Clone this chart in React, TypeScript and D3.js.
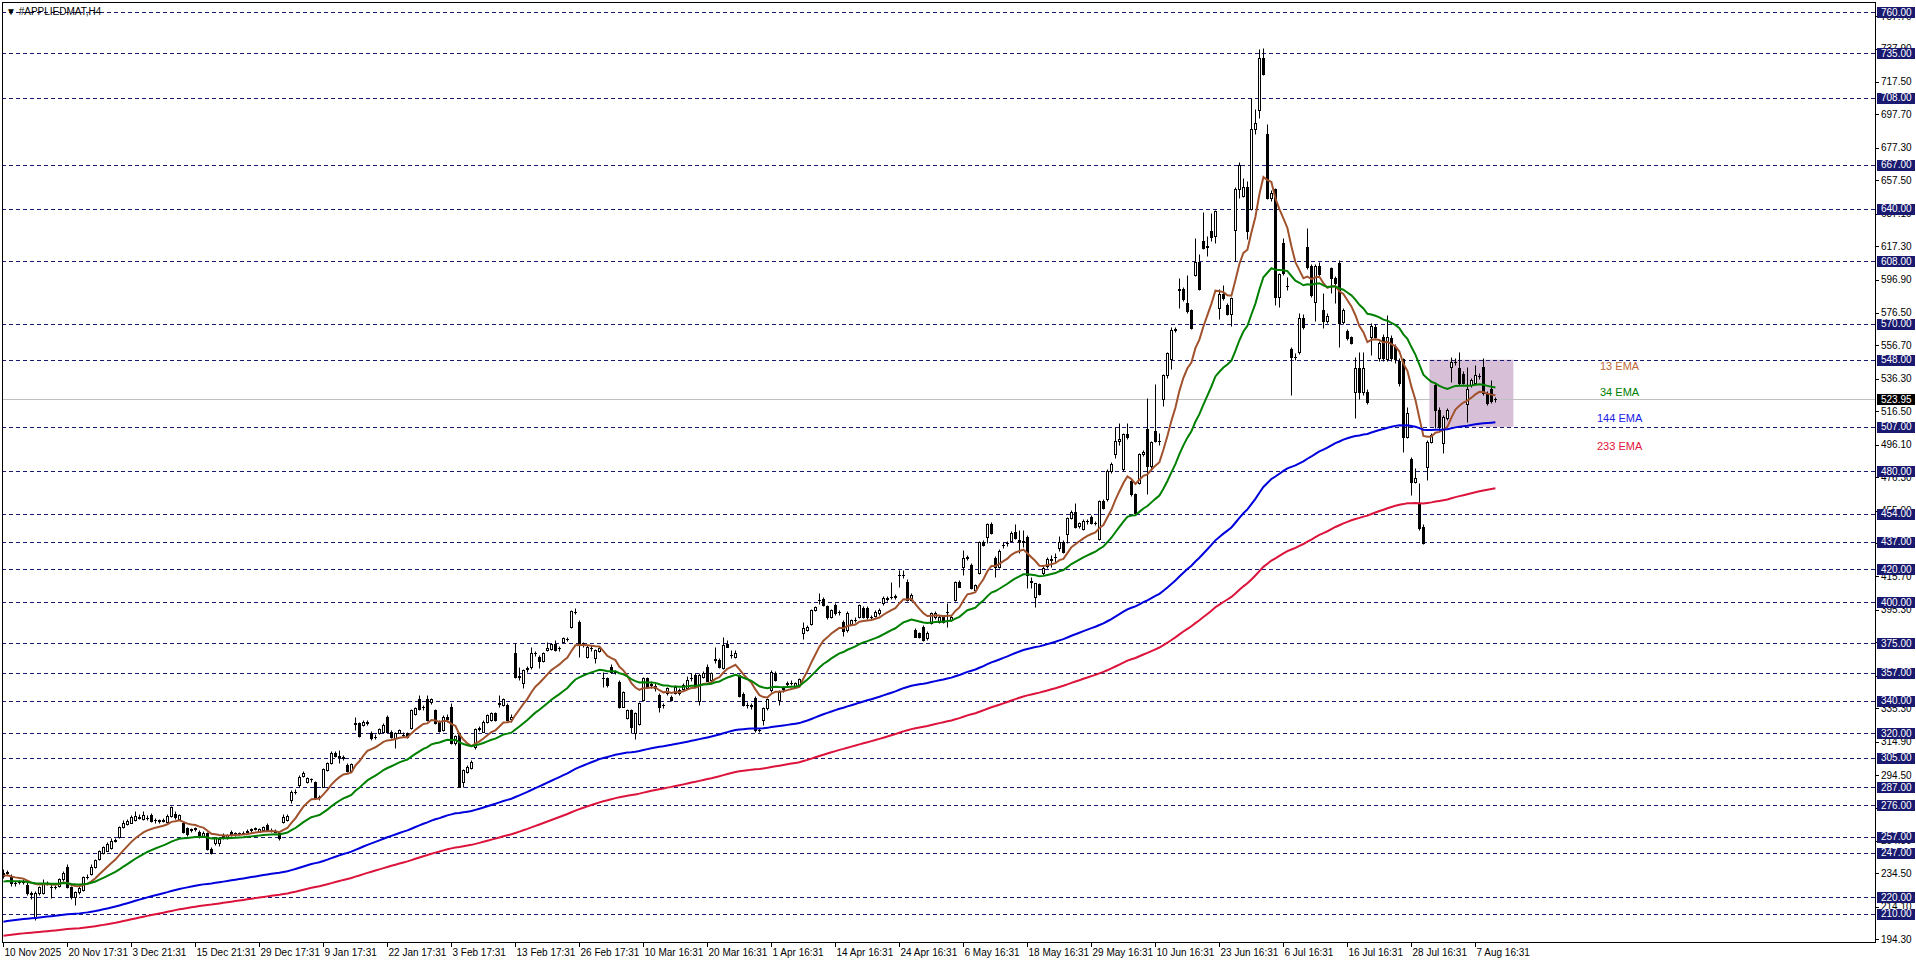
import React, { useEffect } from 'react';
import * as d3 from 'd3';

// H4 bars, [open, high, low, close], first bar 10 Nov 2025
const bars: [number, number, number, number][] = [
  [235, 237, 232, 233], [235, 236.5, 233.5, 235.2], [232.5, 234, 227, 228.5], [228.5, 230, 227, 228.8],
  [229, 230.5, 228, 229.5], [229.5, 231, 228, 229], [227.5, 229, 221.5, 222.4], [222.5, 224, 219, 222],
  [207.5, 224, 206, 222.5], [222.4, 227, 221.5, 226.1], [222.6, 231, 222, 228.9], [228.9, 230, 227.5, 228.6],
  [226.5, 228, 219.5, 226.2], [226.2, 227.5, 225, 226.4], [226.9, 232, 226, 230.9], [230.9, 236, 230, 235],
  [238.5, 240.2, 225.8, 226.5], [226.4, 227, 218.7, 220.4], [220.4, 223.5, 215.3, 223.4], [223.4, 227, 222, 225.5],
  [224.5, 233, 223.5, 232.6], [232.6, 234, 231, 232.2], [234.2, 240, 233.5, 238.6], [238.6, 243.5, 238, 242.7],
  [243.2, 249, 242.5, 248.4], [247.2, 251.5, 246.5, 250.5], [248.4, 253.5, 248, 252.5], [249.9, 256, 249.5, 254.5],
  [254.5, 256, 253.5, 255.2], [256.6, 263.5, 256, 262.7], [262.7, 267, 262, 265.5], [264.7, 268, 264, 266.7],
  [265.5, 270, 265, 269.2], [267.1, 272.8, 266.5, 269.6], [269, 270.5, 267.5, 268.6], [268, 272.8, 267, 270.2],
  [268.5, 270, 267, 268.2], [270.2, 271.5, 266, 266.7], [267, 268.5, 265.5, 267.1], [266.8, 268, 265.5, 266.7],
  [266.7, 268.3, 265.8, 267.1], [266.1, 270.5, 265.5, 269.6], [269.6, 275.9, 269, 274.9], [271, 272.5, 268, 269],
  [267.5, 271, 267, 270], [265.1, 266, 259, 260], [262, 263, 257.5, 258.6], [261, 262.5, 259.5, 261.4],
  [261.8, 263, 260.5, 262], [260, 261, 256, 257], [257, 260.5, 256.5, 259], [259, 260, 249, 249.2],
  [249.2, 250.5, 246.5, 247.2], [252.9, 257, 252, 256.6], [252.9, 256, 251.5, 255.3], [258, 259, 255.5, 256],
  [256.5, 258.5, 255.5, 258], [260, 261, 257.5, 258], [258.5, 260, 257.5, 259], [259, 260, 258, 259.2],
  [259.2, 260.5, 258.5, 259.4], [260, 261.5, 259.5, 260.6], [261, 262.5, 260, 261.4], [261.6, 263, 261, 262],
  [260, 262, 259.5, 261.4], [261, 263.5, 260.5, 262.7], [264.1, 265, 260.5, 261], [261, 262, 259.8, 260.6],
  [260.6, 261.5, 259.5, 260], [259, 260, 255, 256], [266.1, 270.5, 265.5, 269.2], [267, 270.6, 266.5, 269.4],
  [279.3, 285.5, 277.3, 284.4], [284.4, 285.8, 283, 284.4], [288.5, 294.5, 287.5, 293.6], [294, 297, 293.5, 296],
  [290, 293.5, 289.5, 292.6], [292, 293, 290.5, 292.2], [290, 291, 280.5, 281], [281.2, 282.5, 279.5, 281.4],
  [287.5, 299, 287, 298.1], [297.7, 302.5, 297, 301.7], [302.1, 309, 301.5, 308.2], [307.8, 309, 305.5, 306.2],
  [306, 310, 302.1, 305.8], [305.5, 306.8, 304, 304.8], [300.7, 302, 296.5, 297.3], [297.3, 302, 296.8, 301.1],
  [325.8, 330.2, 322, 326.1], [326.1, 327, 317.5, 318.4], [325.1, 328, 324.5, 327.2], [326.8, 328, 325, 326.5],
  [320.4, 321.5, 316, 317], [317.8, 319.5, 316.5, 318], [320.4, 323.5, 319.8, 322.5], [321, 326, 320.5, 325.1],
  [330.2, 331.2, 320.5, 321], [321, 322, 317, 317.6], [317, 320.5, 310.9, 320], [320.4, 322.5, 320, 322],
  [319.2, 320.5, 318, 319], [320, 321, 317, 317.6], [323.1, 335, 322.5, 334.3], [331.8, 336, 331, 335.3],
  [340.8, 343.4, 334, 334.7], [336, 337.5, 334.5, 336.3], [340.8, 343.4, 327.5, 328.2], [338.9, 341.5, 338, 340.8],
  [334.3, 335, 325.5, 326.1], [327.2, 328, 321, 321.7], [322.1, 331, 321.5, 330.2], [330, 331.5, 327, 328.5],
  [335.9, 338.3, 313.5, 313.9], [313.9, 319, 313, 318.4], [320, 321, 287.3, 287.5], [290.5, 298.5, 287.3, 297.6],
  [296.6, 300.5, 296, 299.7], [298.7, 303.5, 298, 302.7], [311.9, 323.5, 310.3, 322.5], [322.8, 324.5, 321.5, 323.1],
  [321, 328, 320.5, 327.2], [327.2, 332, 326.5, 331.2], [328.2, 333, 327.5, 332.2], [332.2, 333, 327.5, 328.2],
  [338, 343.4, 336.3, 338.3], [337.3, 341.5, 336.5, 340.8], [337.3, 338.5, 327.5, 328.2], [329, 332, 327, 330],
  [368.8, 375.3, 354, 354.6], [354.6, 360.7, 352.5, 354.8], [350.5, 359, 347.5, 358.6], [359.3, 361, 357.5, 359.6],
  [360.3, 372.9, 359.5, 369.2], [368.8, 370.5, 367, 368.8], [366.4, 367.5, 359.6, 364.3], [364.3, 369.5, 363.5, 368.8],
  [370.8, 375.9, 370, 371.8], [371.6, 375, 371, 374.5], [374.5, 377, 370.3, 370.8], [372, 373.5, 370.5, 372.3],
  [375.9, 379, 375.3, 378], [377.6, 379, 376.5, 377.8], [384.7, 395, 384, 394.4], [394, 396.5, 393, 394.2],
  [388.1, 389, 366.4, 374.9], [374.9, 376, 372.5, 373.9], [366.8, 373.9, 366, 372.9], [372, 374, 370, 371.9],
  [365.7, 371.5, 362.7, 370.8], [370.2, 373, 369.5, 372], [353.8, 357.6, 348.5, 353.6], [353.6, 354.5, 348.5, 349.5],
  [360.7, 362, 356.8, 357.6], [357.4, 358.5, 356, 357.6], [351.5, 352.5, 335.5, 336.3], [336.3, 346, 335.8, 345.4],
  [329.1, 335, 328.5, 334.2], [334.2, 335, 320, 324.1], [320, 333, 316.3, 332.2], [325.7, 339, 325, 338.3],
  [340.3, 354.5, 339.5, 353.6], [353.6, 354.5, 347.8, 348.5], [349.5, 352, 347.5, 350], [349, 350.5, 346, 347.5],
  [343.4, 344.5, 333.2, 336.3], [337, 338.5, 335.5, 337.3], [344.4, 348.5, 343.5, 347.5], [342.4, 343.5, 339.5, 340.3],
  [344.8, 349.5, 344, 348.5], [346.4, 347.5, 343.5, 344.4], [346.9, 350.5, 346, 349.5], [347.5, 355, 347, 352.5],
  [353.5, 357, 352, 354], [355.6, 357, 348, 348.5], [340, 357, 337.5, 355.6], [354.6, 358, 354, 356.6],
  [360.7, 362, 352, 352.1], [352.5, 357.5, 351.5, 356.6], [364.8, 372.9, 362.7, 365.1], [364.7, 366, 360, 360.7],
  [359.6, 379, 359, 373.9], [374.5, 377, 372.5, 372.9], [368, 371, 366, 367.8], [366.4, 371, 366, 369.2],
  [355.6, 356.5, 342, 342.8], [344, 345, 336.5, 337.3], [337.5, 339, 335.5, 337.3], [337, 338.5, 335, 336.7],
  [341.3, 342.5, 321, 322], [322, 323.5, 320.5, 322.2], [328, 336, 324.9, 335.2], [335.2, 341.5, 334.5, 340.7],
  [346.4, 358.6, 345.5, 357.6], [357, 358, 352, 352.5], [340.3, 346.5, 337.3, 345.4], [347, 349, 345.5, 347.5],
  [350, 352, 349, 350.5], [350.8, 352.5, 349.5, 350.9], [348.5, 351.5, 348, 350.9], [349.5, 353.5, 349, 352.9],
  [381, 388.1, 377.8, 384.1], [383, 386, 382.5, 385], [386.7, 396, 386, 395.3], [395.3, 398, 394.8, 397.3],
  [401.2, 405.8, 398.9, 401.4], [401.8, 403, 397.8, 398.3], [397.7, 398.5, 390, 390.8], [391.2, 396, 390.5, 395.3],
  [398.3, 399.5, 392.5, 393.2], [394, 395.5, 392.5, 394.2], [388.1, 389, 379.4, 382.6], [383, 394.5, 382, 393.6],
  [386.7, 390, 386, 389.1], [389.3, 391, 388, 389.1], [391.2, 399, 390.5, 398.3], [396.3, 397.5, 390.5, 391.2],
  [396.3, 397.5, 390, 390.8], [391, 392.5, 389.5, 391.2], [391.6, 395, 391, 394.2], [393.2, 396.5, 392.5, 395.3],
  [399.3, 403.5, 398.5, 402.4], [402.2, 404, 401, 402.4], [403.2, 412.5, 402, 403.4], [403.4, 405, 402, 403.6],
  [416.4, 419.7, 409.5, 416.6], [416.6, 419.5, 415, 416.8], [412.5, 414, 400.5, 401.4], [401.4, 405.5, 400.5, 404.4],
  [383, 384, 378.5, 379], [381, 382, 378, 379], [384.7, 386, 376.5, 377], [378, 382.5, 377, 381.4],
  [387.1, 394, 386.5, 393.2], [390.8, 394.5, 390, 393.6], [388.1, 392, 387.5, 391.2], [391.2, 392, 387.5, 388.1],
  [394, 399.7, 385, 394.2], [389.1, 392, 388.5, 391.2], [401.4, 413, 400.5, 412.5], [412.5, 413.5, 409, 409.5],
  [421.7, 431.9, 416.6, 426.8], [427.2, 429, 426, 427.4], [422.7, 424, 408, 408.5], [407.5, 411, 407, 410.5],
  [417.6, 437.6, 417, 437], [437, 438, 434.4, 434.9], [440, 448.5, 436.3, 447.7], [447.7, 448.7, 441.5, 442],
  [426.8, 428, 415.6, 421.7], [421.7, 432.5, 421, 431.5], [434.7, 436.5, 433, 434.9], [436, 437.5, 434.5, 436.1],
  [437.5, 443.5, 437, 442.5], [442.6, 447.5, 438.5, 439], [438, 444, 430, 436.5], [436.5, 444, 434, 437.5],
  [439.6, 441, 408.5, 416.6], [412.8, 415.6, 408.5, 412.6], [403, 412, 396.9, 411.5], [411.1, 412, 404.5, 405],
  [417.7, 422.7, 416.6, 420.7], [422, 427.8, 420.7, 426.2], [426, 428.8, 421.7, 426.2], [427.6, 430.3, 424.8, 427.8],
  [432.9, 440.5, 431, 437], [437, 438, 430, 430.9], [441.7, 452, 436.2, 451.2], [451.2, 456.5, 450.5, 455.3],
  [455.3, 460.8, 445.5, 446.1], [446.5, 449, 445.5, 448.3], [444.5, 450.5, 444, 449.6], [449.6, 451, 448, 449.8],
  [452.2, 453, 447.5, 448.2], [448.4, 449.5, 447, 448.6], [438.4, 462.5, 438, 461.6], [461.8, 463, 457, 457.7],
  [462.8, 481, 461.5, 480], [480, 485.5, 479, 484.1], [490.2, 507, 488, 498.4], [498.4, 509.5, 496, 499.8],
  [481, 503.5, 480, 502.4], [502.4, 509.5, 499.5, 500.8], [474, 475, 465, 465.8], [465.8, 466.5, 453.5, 454.2],
  [473, 491, 472, 490.2], [490.2, 493, 489, 491.6], [505.5, 524.8, 465.8, 483.1], [483.1, 498.5, 481, 497.8],
  [504.5, 533, 497.5, 498.4], [498.2, 503, 496, 498.4], [523.8, 539.5, 519.5, 538.4], [538.4, 553, 537, 551.9],
  [548.6, 568, 542.5, 566.1], [566.3, 568, 565, 566.5], [590.7, 598, 579.8, 590.9], [591.3, 592.5, 584, 584.8],
  [582.8, 599.5, 576.7, 577.7], [578.3, 579, 567, 567.5], [599.9, 622.5, 599, 607.6], [607.6, 612.3, 590.5, 591.3],
  [620.4, 638.1, 615.5, 616.4], [617.2, 623.5, 611.3, 617], [626.5, 637.7, 620.4, 623], [623.5, 639.5, 619.5, 638.7],
  [579.7, 591, 572.6, 587.8], [587.8, 593.4, 584.5, 585.8], [581.2, 582.5, 575, 575.7], [575.7, 586.5, 568.6, 585.8],
  [627.1, 653.5, 608.2, 652.4], [652.4, 668.6, 646.5, 666.6], [647.9, 659, 647, 653.6], [653.6, 657, 621.4, 626.5],
  [640.2, 708, 639.5, 688.6], [688.6, 700.8, 686, 692.2], [700.4, 737.8, 695.7, 732.3], [732.3, 738.4, 721.5, 722.1],
  [685.5, 692, 646, 646.5], [646.5, 651.5, 645, 650], [652, 653, 581.4, 586.5], [586.5, 601, 580.4, 600.3],
  [619, 622.1, 599.5, 600.7], [593.2, 598.7, 590.5, 593], [554.3, 556, 526.5, 549.9], [549.7, 552, 548, 549.9],
  [552.9, 576.3, 551.5, 573.2], [573.2, 576, 567, 568.2], [616.6, 628.2, 603.5, 604.8], [605.2, 606.5, 586.5, 587.5],
  [583.4, 606.5, 571.8, 605.2], [605.2, 607.8, 599, 600.3], [578.3, 588.5, 567.1, 571.8], [571.8, 576.5, 570.5, 574.7],
  [603.8, 604.8, 588.5, 597.7], [597.7, 599, 582.4, 594.6], [606.8, 608.8, 555.9, 570.2], [571.2, 579.5, 569.5, 578.3],
  [565.7, 567, 560, 561], [561.6, 562.5, 557.5, 558.4], [528.5, 549.9, 512.2, 542.7], [542.7, 552.9, 524, 528.5],
  [528.5, 552.9, 526.5, 542.7], [528.5, 530, 521, 522.4], [562.1, 570.6, 550.9, 568.6], [568.2, 569.5, 561, 562.1],
  [548.8, 559.5, 547.5, 558], [562.1, 563.5, 547.5, 548.8], [548.2, 575.3, 547, 561.6], [561, 563, 547.5, 548.8],
  [555.9, 557.5, 546, 548.2], [547.4, 549, 532, 534], [548.2, 549, 491.9, 501], [501, 518.9, 500, 515.3],
  [487.2, 488.5, 465.4, 473.6], [473.6, 481.7, 472.6, 475.6], [460.3, 472.6, 444, 445.1], [446.1, 447.5, 435.5, 436],
  [482.7, 499, 474.6, 498], [498, 503.5, 497, 502], [532.6, 534.6, 506.1, 517.3], [517.3, 519, 505.1, 507.1],
  [497, 514, 490.9, 513.2], [512.2, 518.5, 511, 517.3], [543.7, 549.9, 534.6, 546.8], [546.6, 548.8, 545, 546.8],
  [542.7, 552.9, 532.5, 533.6], [539.3, 541, 533, 534], [521, 543.7, 510.2, 530], [532.6, 537, 531.5, 535.6],
  [534, 544.8, 533, 538.7], [537.8, 540, 536.5, 538], [543.7, 548.8, 526.5, 527.5], [527.5, 529, 520.5, 521.4],
  [530, 535.6, 521.4, 523], [524.3, 525.4, 522, 523.95],
];

// one time label every 16 bars
const timeLabels = [
  '10 Nov 2025', '20 Nov 17:31', '3 Dec 21:31', '15 Dec 21:31', '29 Dec 17:31', '9 Jan 17:31',
  '22 Jan 17:31', '3 Feb 17:31', '13 Feb 17:31', '26 Feb 17:31', '10 Mar 16:31', '20 Mar 16:31',
  '1 Apr 16:31', '14 Apr 16:31', '24 Apr 16:31', '6 May 16:31', '18 May 16:31', '29 May 16:31',
  '10 Jun 16:31', '23 Jun 16:31', '6 Jul 16:31', '16 Jul 16:31', '28 Jul 16:31', '7 Aug 16:31',
];

const priceTicks = [
  194.3, 214.1, 234.5, 254.3, 274.7, 294.5, 314.9, 335.3, 355.1, 375.5, 395.3, 415.7, 436.1, 455.9,
  476.3, 496.1, 516.5, 536.3, 556.7, 576.5, 596.9, 617.3, 637.1, 657.5, 677.3, 697.7, 717.5, 737.9, 757.7,
];

// horizontal levels drawn on the chart
const levels = [
  760, 735, 708, 667, 640, 608, 570, 548, 507, 480, 454, 437, 420, 400, 375, 357, 340, 320, 305, 287,
  276, 257, 247, 220, 210,
];

const lastPrice = 523.95;

const emaPeriods = [13, 34, 144, 233];
// EMA values at the first visible bar
const emaSeeds = [233, 229.5, 205, 196.5];
const emaLabelPrices = [544, 528.5, 512.6, 495.5];

// consolidation box: bar range and price range
const zoneBars = [357, 378];
const zonePrices = [507, 548];

const EMA_COLORS = ['#a0522d', '#008000', '#0000dd', '#dc143c'];
const EMA_TEXT = ['#c06838', '#008000', '#2020e8', '#e0143c'];
const LEVEL_COLOR = '#191970';
const FONT = '"Liberation Sans", Arial, sans-serif';

function ema(values: number[], period: number, seed: number) {
  const k = 2 / (period + 1);
  const out: number[] = [];
  let prev = seed;
  values.forEach((v, i) => {
    prev = i === 0 ? seed : prev + k * (v - prev);
    out.push(prev);
  });
  return out;
}

export default function App() {
  useEffect(() => {
    document.body.style.margin = '0';
  }, []);

  const W = 1916;
  const H = 963;
  const plot = { left: 2, top: 2, right: 1875, bottom: 942 };

  const x = d3.scaleLinear().domain([0, 467.9]).range([3.4, plot.right]);
  const y = d3.scaleLinear().domain([194.3, 760]).range([939.3, 12.3]);
  const py = (v: number) => Math.round(y(v)) + 0.5;

  const closes = bars.map((b) => b[3]);
  const emas = emaPeriods.map((p, k) => ema(closes, p, emaSeeds[k]));
  const line = d3
    .line<number>()
    .x((_, i) => x(i))
    .y((v) => y(v));

  return (
    <svg width={W} height={H} style={{ display: 'block', background: '#fff' }} fontFamily={FONT}>
      {/* box behind price */}
      <rect
        x={x(zoneBars[0]) - 2}
        y={y(zonePrices[1])}
        width={x(zoneBars[1]) - x(zoneBars[0])}
        height={y(zonePrices[0]) - y(zonePrices[1])}
        fill="#d8bfd8"
      />

      {/* levels */}
      {levels.map((lv) => (
        <line
          key={lv}
          x1={plot.left}
          x2={plot.right}
          y1={py(lv)}
          y2={py(lv)}
          stroke={LEVEL_COLOR}
          strokeDasharray="4,3"
        />
      ))}
      <line x1={plot.left} x2={plot.right} y1={py(lastPrice)} y2={py(lastPrice)} stroke="#c0c0c0" />

      {/* candles */}
      {bars.map(([o, h, l, c], i) => {
        const cx = Math.round(x(i));
        const top = Math.min(py(o), py(c));
        const bot = Math.max(py(o), py(c));
        const bull = c >= o;
        return (
          <g key={i}>
            <line x1={cx + 0.5} x2={cx + 0.5} y1={py(h)} y2={py(l)} stroke="#000" />
            {bot - top < 1 ? (
              <line x1={cx - 1} x2={cx + 2} y1={top} y2={top} stroke="#000" />
            ) : (
              <rect
                x={cx - 0.5}
                y={top}
                width={2}
                height={bot - top}
                fill={bull ? '#fff' : '#000'}
                stroke="#000"
              />
            )}
          </g>
        );
      })}

      {/* moving averages */}
      {emas.map((vals, k) => (
        <path key={k} d={line(vals) || ''} fill="none" stroke={EMA_COLORS[k]} strokeWidth={2} />
      ))}
      {emaPeriods.map((p, k) => (
        <text
          key={p}
          x={p >= 100 ? 1597 : 1600}
          y={y(emaLabelPrices[k])}
          dy="0.35em"
          fontSize={11}
          fill={EMA_TEXT[k]}
        >
          {p} EMA
        </text>
      ))}

      {/* frame */}
      <rect
        x={plot.left + 0.5}
        y={plot.top + 0.5}
        width={plot.right - plot.left}
        height={plot.bottom - plot.top}
        fill="none"
        stroke="#000"
      />

      {/* title */}
      <text x={6} y={15} fontSize={10} fill="#000">
        ▼ #APPLIEDMAT,H4
      </text>

      {/* price axis */}
      {priceTicks.map((t) => (
        <g key={t}>
          <line x1={plot.right} x2={plot.right + 4} y1={py(t)} y2={py(t)} stroke="#000" />
          <text x={plot.right + 6} y={y(t)} dy="0.35em" fontSize={10} fill="#000">
            {t.toFixed(2)}
          </text>
        </g>
      ))}
      {levels.map((lv) => (
        <g key={'b' + lv}>
          <rect x={plot.right + 2} y={py(lv) - 5.5} width={W - plot.right - 3} height={11} fill={LEVEL_COLOR} />
          <text x={plot.right + 6} y={y(lv)} dy="0.35em" fontSize={10} fill="#fff">
            {lv.toFixed(2)}
          </text>
        </g>
      ))}
      <rect x={plot.right + 2} y={py(lastPrice) - 5.5} width={W - plot.right - 3} height={11} fill="#000" />
      <text x={plot.right + 6} y={y(lastPrice)} dy="0.35em" fontSize={10} fill="#fff">
        {lastPrice.toFixed(2)}
      </text>

      {/* time axis */}
      {timeLabels.map((lab, k) => {
        const tx = Math.round(x(k * 16)) + 0.5;
        return (
          <g key={lab}>
            <line x1={tx} x2={tx} y1={plot.bottom} y2={plot.bottom + 5} stroke="#000" />
            <text x={tx + 1} y={956} fontSize={10} fill="#000">
              {lab}
            </text>
          </g>
        );
      })}
    </svg>
  );
}
